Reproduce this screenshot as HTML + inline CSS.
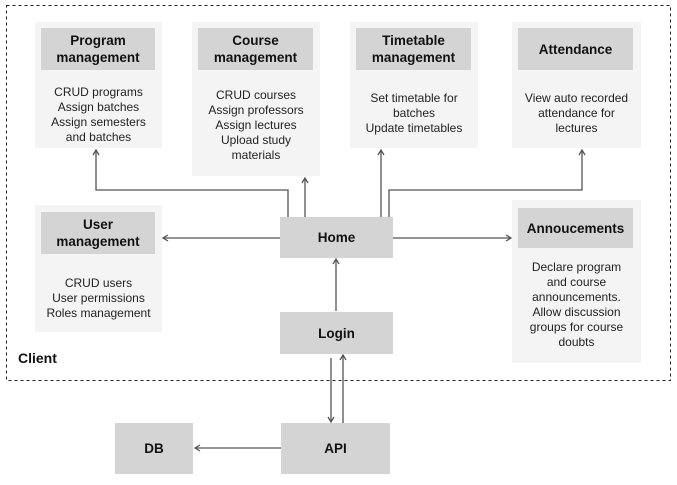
<!DOCTYPE html>
<html><head><meta charset="utf-8"><style>
body{margin:0;width:677px;height:485px;background:#fff;position:relative;font-family:"Liberation Sans",sans-serif;color:#111;overflow:hidden}
.card{position:absolute;background:#f4f4f4}
.hd{position:absolute;background:#d4d4d4;font-weight:bold;font-size:13.5px;line-height:17px;display:flex;align-items:center;justify-content:center;text-align:center}
.tx{position:absolute;font-size:12px;line-height:15px;text-align:center;color:#222}
svg{position:absolute;left:0;top:0}
</style></head><body>
<svg width="677" height="485">
<rect x="6.5" y="5.5" width="664" height="375" fill="none" stroke="#222" stroke-dasharray="3,3"/>
</svg>
<div class="card" style="left:35px;top:22px;width:127px;height:126px"></div>
<div class="hd" style="left:41px;top:28px;width:114px;height:42px">Program<br>management</div>
<div class="tx" style="left:35px;top:85px;width:127px">CRUD programs<br>Assign batches<br>Assign semesters<br>and batches</div>

<div class="card" style="left:192px;top:22px;width:128px;height:154px"></div>
<div class="hd" style="left:198px;top:28px;width:115px;height:42px">Course<br>management</div>
<div class="tx" style="left:192px;top:88px;width:128px">CRUD courses<br>Assign professors<br>Assign lectures<br>Upload study<br>materials</div>

<div class="card" style="left:350px;top:22px;width:128px;height:126px"></div>
<div class="hd" style="left:356px;top:28px;width:115px;height:42px">Timetable<br>management</div>
<div class="tx" style="left:350px;top:91px;width:128px">Set timetable for<br>batches<br>Update timetables</div>

<div class="card" style="left:512px;top:22px;width:129px;height:126px"></div>
<div class="hd" style="left:518px;top:28px;width:115px;height:42px">Attendance</div>
<div class="tx" style="left:512px;top:91px;width:129px">View auto recorded<br>attendance for<br>lectures</div>

<div class="card" style="left:35px;top:205px;width:127px;height:127px"></div>
<div class="hd" style="left:41px;top:212px;width:114px;height:42px">User<br>management</div>
<div class="tx" style="left:35px;top:276px;width:127px">CRUD users<br>User permissions<br>Roles management</div>

<div class="card" style="left:512px;top:200px;width:129px;height:163px"></div>
<div class="hd" style="left:518px;top:208px;width:115px;height:40px">Annoucements</div>
<div class="tx" style="left:512px;top:260px;width:129px">Declare program<br>and course<br>announcements.<br>Allow discussion<br>groups for course<br>doubts</div>

<div class="hd" style="left:280px;top:217px;width:113px;height:41px">Home</div>
<div class="hd" style="left:280px;top:312px;width:113px;height:42px">Login</div>
<div class="hd" style="left:281px;top:423px;width:109px;height:51px">API</div>
<div class="hd" style="left:115px;top:423px;width:78px;height:51px">DB</div>

<div style="position:absolute;left:18px;top:350px;font-weight:bold;font-size:14px">Client</div>

<svg width="677" height="485" fill="none" stroke="#555" stroke-width="1.3">
<polyline points="288,217 288,190 96,190 96,151"/><polyline points="93,155 96,150 99,155"/>
<line x1="305" y1="217" x2="305" y2="179"/><polyline points="302,183 305,178 308,183"/>
<line x1="381" y1="217" x2="381" y2="151"/><polyline points="378,155 381,150 384,155"/>
<polyline points="389,217 389,190 582,190 582,151"/><polyline points="579,155 582,150 585,155"/>
<line x1="280" y1="238" x2="164" y2="238"/><polyline points="168,235 163,238 168,241"/>
<line x1="393" y1="238" x2="510" y2="238"/><polyline points="506,235 511,238 506,241"/>
<line x1="336" y1="311" x2="336" y2="260"/><polyline points="333,264 336,259 339,264"/>
<line x1="331" y1="358" x2="331" y2="421"/><polyline points="328,417 331,422 334,417"/>
<line x1="343" y1="423" x2="343" y2="356"/><polyline points="340,360 343,355 346,360"/>
<line x1="281" y1="448" x2="196" y2="448"/><polyline points="200,445 195,448 200,451"/>
</svg>
</body></html>
